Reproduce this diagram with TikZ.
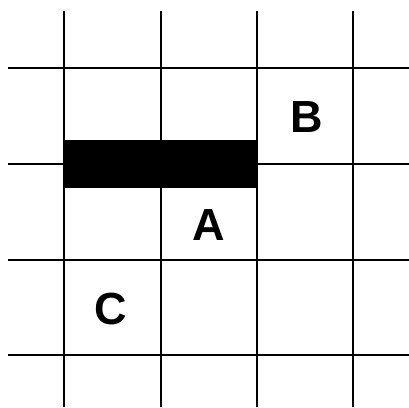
\documentclass[tikz,border=0pt]{standalone}
\usepackage{fontspec}
\setmainfont{Liberation Sans}
\begin{document}
\begin{tikzpicture}[x=1pt,y=-1pt,
  gridline/.style={line width=2.4pt,black},
  label/.style={font=\fontsize{45}{45}\selectfont\bfseries,inner sep=0pt,anchor=center}]
\useasboundingbox (0,0) rectangle (409,407);
% vertical lines
\foreach \x in {64,161,257,353} \draw[gridline] (\x,11) -- (\x,407);
% horizontal lines
\foreach \y in {68,164,260,355} \draw[gridline] (8,\y) -- (409,\y);
% black bar
\fill[black] (63,140) rectangle (257,188);
\node[label] (B) at (307,117) {B};
\node[label] (A) at (209,225) {A};
\node[label] (C) at (111,309) {C};
\end{tikzpicture}
\end{document}
